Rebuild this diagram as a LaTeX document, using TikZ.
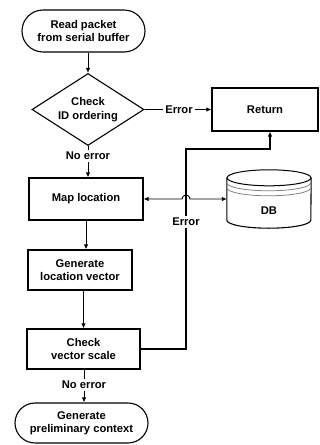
\documentclass[tikz,border=0pt]{standalone}
\usepackage{fontspec}
\setmainfont{Liberation Sans}
\usetikzlibrary{arrows.meta,shapes.geometric,shapes.misc,calc}
\begin{document}
\begin{tikzpicture}[x=1pt,y=1pt,
  every node/.style={font=\fontsize{11.2}{13.5}\selectfont\bfseries, align=center, inner sep=0pt},
  box/.style={draw, line width=1.1pt},
  term/.style={draw, line width=1.1pt, rounded rectangle},
  lbl/.style={inner sep=2pt},
  conn/.style={line width=0.9pt},
  arr/.style={line width=0.9pt, -{Latex[length=5pt,width=4.5pt]}},
  darr/.style={line width=0.9pt, {Latex[length=5pt,width=4.5pt]}-{Latex[length=5pt,width=4.5pt]}}
]
\useasboundingbox (0,0) rectangle (320,-445);

\node[term, minimum width=123pt, minimum height=42pt] (start) at (83.5,-31) {Read packet\\from serial buffer};
\node[draw, line width=1.1pt, diamond, shape aspect=1.56, minimum width=112pt, minimum height=72pt] (dia) at (88,-109.5) {Check\\ID ordering};
\node[lbl] (ne1) at (88,-156) {No error};
\node[box, minimum width=114pt, minimum height=42pt] (map) at (86,-199) {Map location};
\node[box, minimum width=104pt, minimum height=40pt] (gen) at (80,-270) {Generate\\location vector};
\node[box, minimum width=113pt, minimum height=40pt] (chk) at (83.5,-349) {Check\\vector scale};
\node[lbl] (ne2) at (84,-385) {No error};
\node[term, minimum width=133pt, minimum height=40pt] (fin) at (81.5,-423) {Generate\\preliminary context};

\node[box, minimum width=106pt, minimum height=43pt] (ret) at (265,-109.5) {Return};
\node[lbl] (e1) at (179,-109.5) {Error};
\node[lbl] (e2) at (186,-222) {Error};

% DB cylinder
\node[minimum width=84pt, minimum height=58pt, text height=30pt, text depth=0pt] (db) at (269,-199) {DB};
\draw[line width=1.1pt]
  ($(db.north west)+(0,-8)$) -- ($(db.south west)+(0,8)$)
  arc[start angle=180, end angle=360, x radius=42, y radius=8]
  -- ($(db.north east)+(0,-8)$);
\draw[line width=1pt] ($(db.north)+(0,-8)$) ellipse[x radius=42, y radius=8];
\draw[line width=0.8pt, gray] ($(db.north west)+(0,-13)$) arc[start angle=180, end angle=360, x radius=42, y radius=8];
\draw[line width=0.8pt, gray] ($(db.north west)+(0,-18)$) arc[start angle=180, end angle=360, x radius=42, y radius=8];

\coordinate (hop) at ($(e2.north |- map.east)+(-4,0)$);
\coordinate (bend) at (186,-149);
\coordinate (bend2) at (270,-149);

% main flow
\draw[arr] (start.south -| dia.north) -- (dia.north);
\draw[conn] (dia.south) -- (dia.south |- ne1.north);
\draw[arr] (ne1.south -| dia.south) -- (dia.south |- map.north);
\draw[arr] (map.south) -- (map.south |- gen.north);
\draw[arr] (gen.south -| chk.north) -- (chk.north);
\draw[conn] (chk.south -| ne2.north) -- (ne2.north);
\draw[arr] (ne2.south) -- (ne2.south |- fin.north);

% error to return
\draw[conn] (dia.east) -- (e1.west);
\draw[arr] (e1.east) -- (ret.west);

% map <-> db with hop
\draw[darr] (map.east) -- (hop) arc[start angle=180, end angle=0, radius=4] -- (db.west);

% check -> return loop
\draw[line width=1.2pt] (chk.east) -- (chk.east -| e2.south) -- (e2.south);
\draw[line width=1.2pt, -{Latex[length=5pt,width=4.5pt]}] (e2.north) -- (bend) -- (bend2) -- (bend2 |- ret.south);
\end{tikzpicture}
\end{document}
